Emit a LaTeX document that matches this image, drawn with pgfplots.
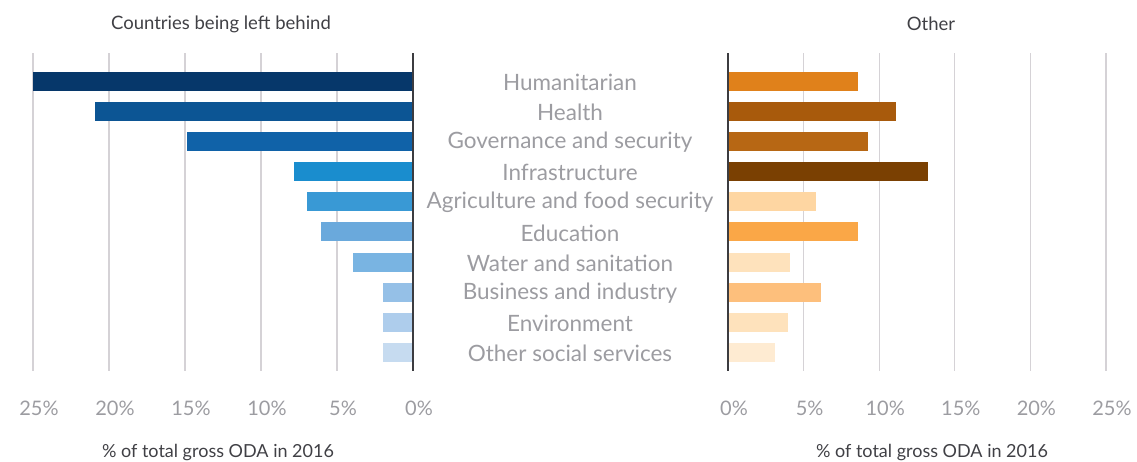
\documentclass[border=0pt]{standalone}
\usepackage{pgfplots}
\pgfplotsset{compat=1.18}
\usepackage{fontspec}
\setmainfont{Lato}
\definecolor{L1}{HTML}{06376A}\definecolor{L2}{HTML}{0C5594}\definecolor{L3}{HTML}{1062A8}
\definecolor{L4}{HTML}{1A8DCE}\definecolor{L5}{HTML}{3999D5}\definecolor{L6}{HTML}{6AA9DC}
\definecolor{L7}{HTML}{79B4E2}\definecolor{L8}{HTML}{95C0E7}\definecolor{L9}{HTML}{AECDEC}
\definecolor{L10}{HTML}{C6DBF0}
\definecolor{R1}{HTML}{E0811B}\definecolor{R2}{HTML}{A85A0C}\definecolor{R3}{HTML}{B76714}
\definecolor{R4}{HTML}{7A4002}\definecolor{R5}{HTML}{FED6A2}\definecolor{R6}{HTML}{FAA747}
\definecolor{R7}{HTML}{FEE2BC}\definecolor{R8}{HTML}{FDBF7C}\definecolor{R9}{HTML}{FEE2BC}
\definecolor{R10}{HTML}{FEEBD2}
\definecolor{catgray}{HTML}{9C9CA1}
\definecolor{titlegray}{HTML}{404045}
\definecolor{gridc}{HTML}{D5D2D6}
\definecolor{zeroc}{HTML}{3C3C40}
\pgfplotsset{
  common/.style={
    scale only axis, height=318pt,
    ymin=-0.93, ymax=9.61, y dir=reverse,
    xmin=0, xmax=25, xtick={0,5,10,15,20,25},
    ytick={0,1,2,3,4,5,6,7,8,9},
    xmajorgrids, grid style={gridc, line width=1.3pt},
    axis line style={draw=none},
    major tick length=0pt,
    /pgf/number format/assume math mode=true,
    xticklabel={\pgfmathprintnumber{\tick}\%},
    xticklabel style={anchor=center, yshift=-37pt, xshift=6pt, font=\fontsize{20}{24}\selectfont, text=catgray},
    clip=false,
  },
  lb/.style={xbar, bar shift=0pt, bar width=19pt, draw=none, fill=#1},
}
\begin{document}
\begin{tikzpicture}
\useasboundingbox (0pt,0pt) rectangle (1137pt,-461pt);
\begin{axis}[common, at={(33pt,-371pt)}, anchor=south west, width=380pt,
  x dir=reverse,
  yticklabel pos=right,
  yticklabels={Humanitarian, Health, Governance and security, Infrastructure, Agriculture and food security, Education, Water and sanitation, Business and industry, Environment, Other social services},
  yticklabel style={anchor=center, xshift=157pt, yshift=-1pt, font=\fontsize{22.5}{26}\selectfont, text=catgray},
]
\addplot[lb=L1] coordinates {(25.0,0)};
\addplot[lb=L2] coordinates {(20.9,1)};
\addplot[lb=L3] coordinates {(14.9,2)};
\addplot[lb=L4] coordinates {(7.8,3)};
\addplot[lb=L5] coordinates {(7.0,4)};
\addplot[lb=L6] coordinates {(6.05,5)};
\addplot[lb=L7] coordinates {(3.95,6)};
\addplot[lb=L8] coordinates {(2.0,7)};
\addplot[lb=L9] coordinates {(2.0,8)};
\addplot[lb=L10] coordinates {(2.0,9)};
\draw[zeroc, line width=1.4pt] (axis cs:0,-0.93) -- (axis cs:0,9.61);
\node[anchor=center, text=titlegray, font=\fontsize{18.5}{22}\selectfont] at ([xshift=-2pt, yshift=29pt]axis description cs:0.5,1) {Countries being left behind};
\node[anchor=center, text=titlegray, font=\fontsize{18}{22}\selectfont] at ([xshift=-5pt, yshift=-81pt]axis description cs:0.5,0) {\% of total gross ODA in 2016};
\end{axis}
\begin{axis}[common, at={(728pt,-371pt)}, anchor=south west, width=378pt,
  yticklabels={},
]
\addplot[lb=R1] coordinates {(8.6,0)};
\addplot[lb=R2] coordinates {(11.1,1)};
\addplot[lb=R3] coordinates {(9.25,2)};
\addplot[lb=R4] coordinates {(13.2,3)};
\addplot[lb=R5] coordinates {(5.8,4)};
\addplot[lb=R6] coordinates {(8.6,5)};
\addplot[lb=R7] coordinates {(4.1,6)};
\addplot[lb=R8] coordinates {(6.15,7)};
\addplot[lb=R9] coordinates {(4.0,8)};
\addplot[lb=R10] coordinates {(3.1,9)};
\draw[zeroc, line width=1.4pt] (axis cs:0,-0.93) -- (axis cs:0,9.61);
\node[anchor=center, text=titlegray, font=\fontsize{18.5}{22}\selectfont] at ([xshift=14pt, yshift=29pt]axis description cs:0.5,1) {Other};
\node[anchor=center, text=titlegray, font=\fontsize{18}{22}\selectfont] at ([xshift=15pt, yshift=-81pt]axis description cs:0.5,0) {\% of total gross ODA in 2016};
\end{axis}
\end{tikzpicture}
\end{document}
